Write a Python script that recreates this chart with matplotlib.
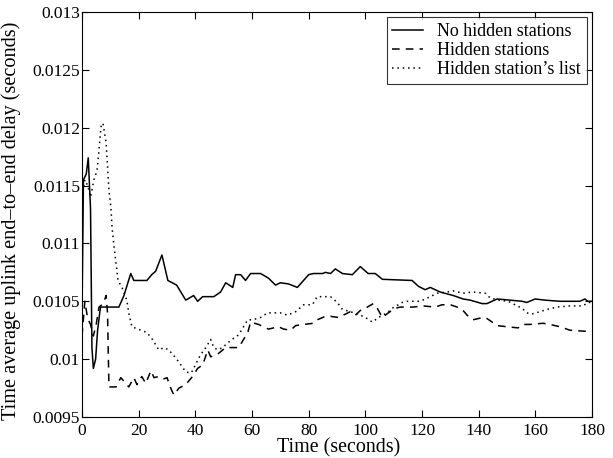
import matplotlib
matplotlib.use("Agg")
import matplotlib.pyplot as plt

plt.rcParams["font.family"] = ["Liberation Serif", "DejaVu Serif"]

# No hidden stations (solid)
t_solid = [0, 0.5, 1.5, 2.2, 3.0, 3.5, 4.0, 4.8, 5.5, 6.5, 9, 13, 14.8, 17.2, 18.3,
           22.9, 24.6, 26, 28.2, 30.3, 33.4, 36.6, 39.4, 40.8, 42.6, 46.5, 48.9,
           50.7, 53.2, 54.2, 56, 57.7, 59.5, 63, 65.8, 68.3, 70, 72.9, 76, 80,
           81.7, 84.9, 85.9, 87.7, 89.4, 91.9, 95.4, 98.2, 101, 103.5, 106, 116.5,
           118.7, 121.1, 122.9, 126.4, 131, 134.5, 137, 141.2, 142.9, 146.5, 151,
           155.3, 157, 159.9, 163.4, 168.7, 175.7, 177.5, 178.5, 180]
v_solid = [0.0104, 0.01155, 0.0116, 0.01174, 0.0113, 0.0101, 0.00992, 0.0100,
           0.01025, 0.01045, 0.01045, 0.01045, 0.01055, 0.01074, 0.01068,
           0.01068, 0.01073, 0.01076, 0.0109, 0.01068, 0.01064, 0.01051, 0.01055,
           0.0105, 0.01054, 0.01054, 0.01058, 0.01066, 0.01062, 0.01073, 0.01073,
           0.01068, 0.01074, 0.01074, 0.0107, 0.01064, 0.01066, 0.01065, 0.01062,
           0.01073, 0.01074, 0.01074, 0.01075, 0.01074, 0.01078, 0.01074, 0.01073,
           0.0108, 0.01074, 0.01074, 0.01069, 0.01068, 0.01063, 0.0106, 0.01062,
           0.01058, 0.01055, 0.01052, 0.01051, 0.01048, 0.01048, 0.01052, 0.01051,
           0.0105, 0.01049, 0.01052, 0.01051, 0.0105, 0.0105, 0.01052, 0.0105,
           0.0105]

# Hidden stations (dashed)
t_dash = [0, 1, 2, 3, 4, 5, 6, 7.5, 8.5, 9.0, 9.5, 12, 13.7, 16.5, 18.3, 19.4,
          21.1, 22.5, 24.3, 25.4, 27.1, 28.9, 30, 31.3, 32.4, 34.2, 36.6, 39,
          40.8, 42.6, 44.4, 45.4, 48.2, 50.7, 52.5, 55.3, 57, 58.5, 59.5, 62.3,
          65.8, 69.4, 71.1, 73.6, 75.4, 78.2, 81.7, 83, 85.9, 87.7, 90.5, 94.7,
          96.5, 98.2, 100, 102.8, 104.2, 106, 108.1, 110.6, 112.3, 116.9, 120.4,
          124.6, 127.1, 130, 132.4, 134.5, 135.9, 138, 141.5, 143, 146.5, 150,
          153.9, 155.6, 158.1, 162.7, 165.1, 168.7, 172.2, 178.2, 180]
v_dash = [0.0102, 0.0105, 0.01035, 0.0103, 0.0102, 0.0103, 0.01045, 0.01048,
          0.01055, 0.0104, 0.00976, 0.00976, 0.00984, 0.00976, 0.00984, 0.00978,
          0.00985, 0.00979, 0.0099, 0.00984, 0.00985, 0.00983, 0.00984, 0.00975,
          0.00969, 0.00975, 0.00978, 0.00985, 0.00992, 0.00995, 0.01008, 0.01002,
          0.01005, 0.0101, 0.0101, 0.0101, 0.01017, 0.01023, 0.01032, 0.0103,
          0.01026, 0.01028, 0.01026, 0.01025, 0.01029, 0.0103, 0.01031, 0.01034,
          0.01037, 0.01037, 0.01036, 0.01041, 0.01038, 0.01042, 0.01044, 0.01048,
          0.01044, 0.01036, 0.0104, 0.01044, 0.01045, 0.01045, 0.01046, 0.01045,
          0.01047, 0.01047, 0.01045, 0.01042, 0.01038, 0.01034, 0.01036, 0.01035,
          0.01029, 0.01028, 0.01027, 0.0103, 0.0103, 0.01031, 0.0103, 0.01028,
          0.01025, 0.01024, 0.01024]

# Hidden station's list (dotted)
t_dot = [0, 1, 2, 3, 4.2, 5.3, 6.0, 6.7, 7.4, 8.5, 9.5, 10.2, 10.6, 11.3, 12,
         12.7, 14.1, 15.8, 16.5, 17.6, 20.8, 22.9, 24.6, 27.1, 28.9, 30.6, 33.1,
         34.9, 36.6, 38.4, 39, 40.8, 41.9, 43.7, 45.4, 46.5, 47.9, 49.6, 51.4,
         53.5, 55.3, 57, 58.5, 60.2, 63, 65.5, 67.6, 70, 72.5, 75.4, 78.2, 81.3,
         83, 86.6, 87.7, 90.1, 91.9, 94.7, 98.2, 100, 102.5, 104.6, 107.7, 109.5,
         113, 114.8, 119.4, 122.9, 125.4, 128.9, 131, 134.5, 138, 142.3, 144,
         146.8, 150.4, 152.8, 155.3, 157, 158.8, 161.6, 164.1, 167.6, 172.2,
         176.8, 178.5, 180]
v_dot = [0.0114, 0.01155, 0.0115, 0.0114, 0.01155, 0.01163, 0.01181, 0.01201,
         0.01204, 0.01187, 0.01146, 0.01131, 0.01114, 0.01097, 0.01083, 0.01068,
         0.01062, 0.01051, 0.0104, 0.01028, 0.01025, 0.01023, 0.01018, 0.01008,
         0.0101, 0.01008, 0.01001, 0.00995, 0.00989, 0.00988, 0.0099, 0.00999,
         0.01004, 0.0101, 0.01017, 0.0101, 0.01008, 0.0101, 0.01014, 0.01018,
         0.01021, 0.01028, 0.01034, 0.01034, 0.01036, 0.0104, 0.0104, 0.0104,
         0.01038, 0.01041, 0.01047, 0.01047, 0.01054, 0.01054, 0.01054, 0.01049,
         0.01043, 0.01041, 0.01038, 0.01036, 0.01032, 0.01036, 0.0104, 0.01044,
         0.01049, 0.0105, 0.0105, 0.01054, 0.01057, 0.01058, 0.01059, 0.01057,
         0.01058, 0.01057, 0.01053, 0.01051, 0.0105, 0.01047, 0.01044, 0.0104,
         0.01039, 0.01041, 0.01043, 0.01045, 0.01046, 0.01046, 0.01049, 0.01049]

fig = plt.figure(figsize=(6.13, 4.58), dpi=100)
ax = fig.add_axes([0.1338, 0.0895, 0.832, 0.8843])

ax.plot(t_solid, v_solid, color="black", linestyle="-", linewidth=1.1,
        label="No hidden stations")
ax.plot(t_dash, v_dash, color="black", linestyle=(0, (5, 4)), linewidth=1.1,
        label="Hidden stations")
ax.plot(t_dot, v_dot, color="black", linestyle=(0, (1, 2.5)), linewidth=1.1,
        label="Hidden station\u2019s list")

ax.set_xlim(0, 180)
ax.set_ylim(0.0095, 0.013)
ax.set_xticks(range(0, 181, 20))
ax.set_yticks([0.0095, 0.01, 0.0105, 0.011, 0.0115, 0.012, 0.0125, 0.013])
ax.set_yticklabels(["0.0095", "0.01", "0.0105", "0.011", "0.0115", "0.012",
                    "0.0125", "0.013"])
ax.tick_params(direction="in", top=True, right=True, labelsize=12.5, length=5)
ax.tick_params(axis="x", pad=4)
ax.tick_params(axis="y", pad=1.5)

ax.set_xlabel("Time (seconds)", fontsize=14.4)
ax.set_ylabel("Time average uplink end\u2013to\u2013end delay (seconds)",
              fontsize=14.6)
ax.xaxis.set_label_coords(0.503, -0.053)
ax.yaxis.set_label_coords(-0.12, 0.484)

leg = ax.legend(loc="upper right", fontsize=13, frameon=True, fancybox=False,
                edgecolor="black", handlelength=1.7, handletextpad=0.8,
                borderpad=0.3, labelspacing=0.12, borderaxespad=0.3)
leg.get_frame().set_linewidth(0.8)

fig.savefig("out.png", dpi=100)
